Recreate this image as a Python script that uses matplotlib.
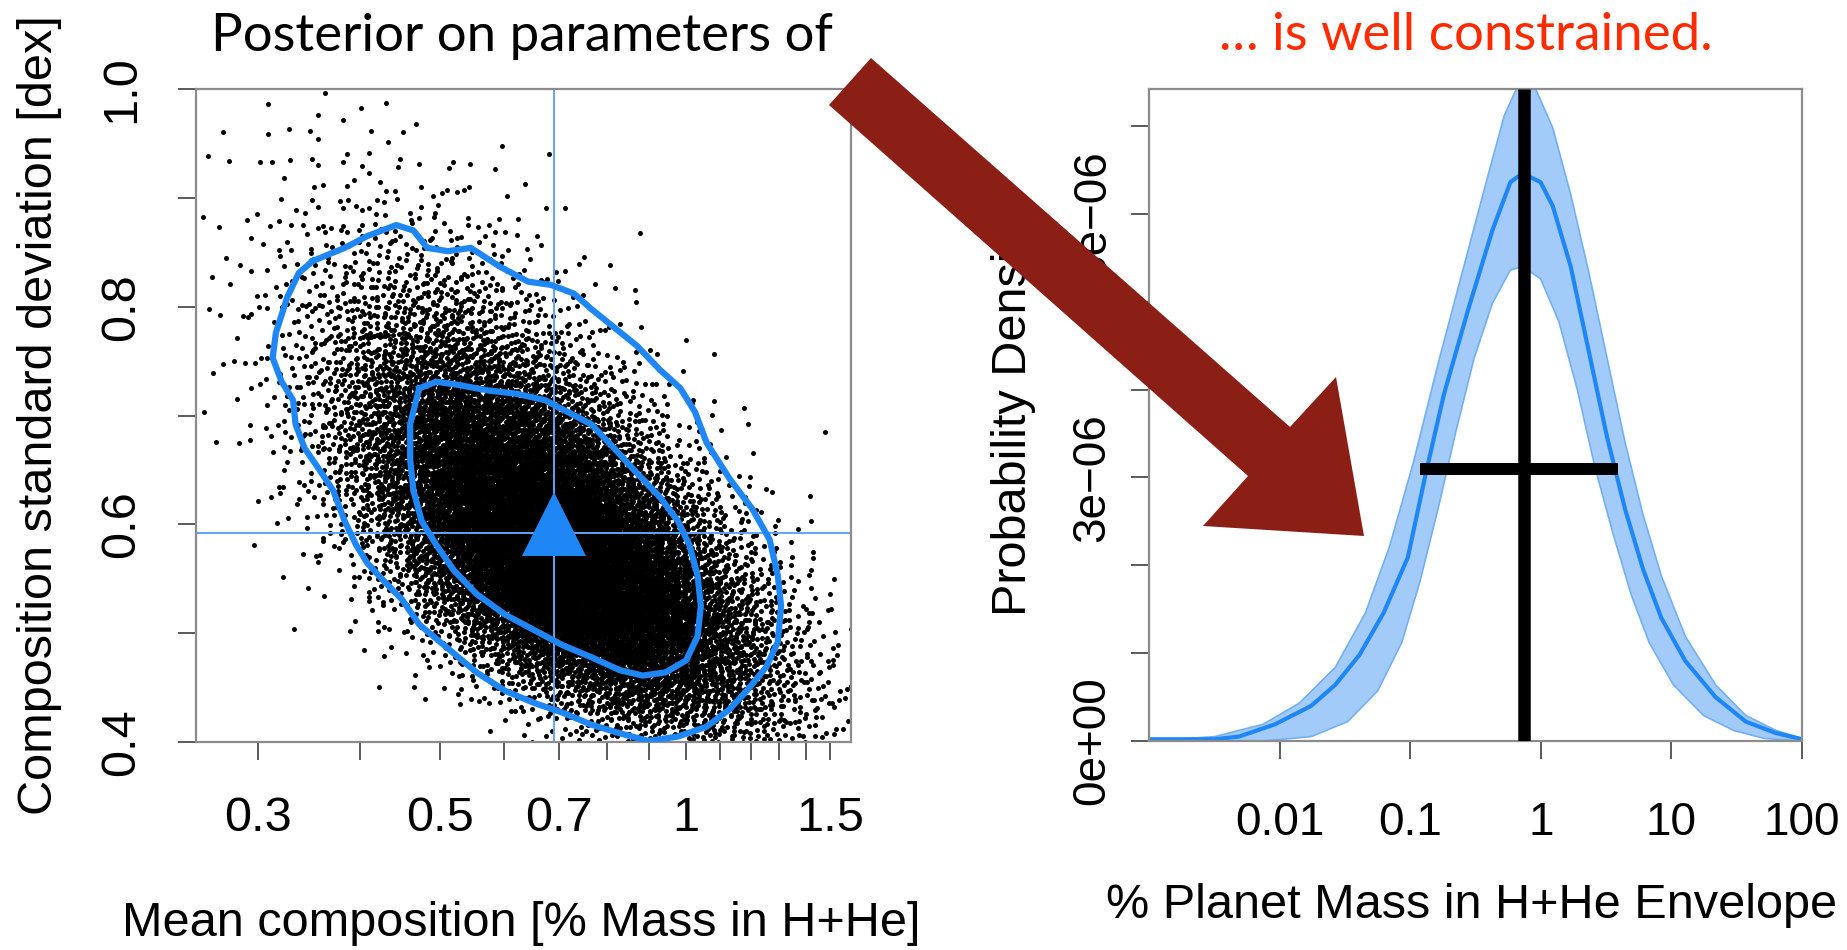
import numpy as np
import matplotlib
matplotlib.use("Agg")
import matplotlib.pyplot as plt
import matplotlib.ticker as mticker
from matplotlib.patches import Polygon

plt.rcParams["font.family"] = ["Liberation Sans", "DejaVu Sans"]

# ------------------ posterior on population parameters ------------------
n_draws = 14000
mean_log_center = -0.165    # log10 of mean composition [% mass in H+He]
mean_log_sigma = 0.13
sd_center = 0.585           # composition standard deviation [dex]
sd_log_sigma = 0.165
corr = -0.62

median_mean = 0.69
median_sd = 0.592
true_mean = 0.69
true_sd = 0.60

# credible-region outlines (log10 mean composition, sd in dex)
outer_logmean = [-0.456, -0.417, -0.389, -0.354, -0.333, -0.316, -0.291, -0.263, -0.228, -0.193,
                 -0.165, -0.137, -0.116, -0.088, -0.060, -0.032, -0.007, 0.011, 0.025, 0.053,
                 0.081, 0.102, 0.112, 0.116, 0.112, 0.098, 0.074, 0.053, 0.025, -0.010,
                 -0.046, -0.081, -0.116, -0.151, -0.186, -0.221, -0.256, -0.291, -0.326, -0.347,
                 -0.368, -0.389, -0.403, -0.417, -0.431, -0.445, -0.466, -0.477, -0.480, -0.494,
                 -0.505, -0.501, -0.487, -0.473]
outer_sd = [0.842, 0.854, 0.865, 0.875, 0.870, 0.854, 0.851, 0.854, 0.837, 0.823,
            0.820, 0.812, 0.798, 0.781, 0.764, 0.742, 0.725, 0.703, 0.675, 0.642,
            0.614, 0.586, 0.553, 0.525, 0.492, 0.469, 0.447, 0.430, 0.414, 0.405,
            0.401, 0.408, 0.416, 0.427, 0.436, 0.447, 0.464, 0.486, 0.508, 0.531,
            0.547, 0.564, 0.581, 0.603, 0.631, 0.647, 0.670, 0.692, 0.714, 0.731,
            0.753, 0.776, 0.809, 0.831]
inner_logmean = [-0.326, -0.305, -0.277, -0.242, -0.207, -0.172, -0.144, -0.116, -0.088, -0.060,
                 -0.032, -0.010, 0.004, 0.014, 0.018, 0.014, 0.000, -0.025, -0.053, -0.081,
                 -0.116, -0.151, -0.186, -0.221, -0.256, -0.284, -0.305, -0.323, -0.333, -0.337,
                 -0.337]
inner_sd = [0.725, 0.731, 0.728, 0.723, 0.720, 0.714, 0.703, 0.692, 0.670, 0.647,
            0.625, 0.603, 0.581, 0.553, 0.525, 0.497, 0.475, 0.464, 0.461, 0.466,
            0.478, 0.489, 0.503, 0.517, 0.536, 0.558, 0.581, 0.603, 0.631, 0.659,
            0.692]

left_xticks = [0.3, 0.4, 0.5, 0.6, 0.7, 0.8, 0.9, 1.0, 1.1, 1.2, 1.3, 1.4, 1.5]
left_xlabels = ["0.3", "", "0.5", "", "0.7", "", "", "1", "", "", "", "", "1.5"]
left_yticks = [0.4, 0.5, 0.6, 0.7, 0.8, 0.9, 1.0]
left_ylabels = ["0.4", "", "0.6", "", "0.8", "", "1.0"]

# ------------------ implied envelope-fraction distribution ------------------
median_logx = [-3.0, -2.497, -2.312, -2.035, -1.758, -1.573, -1.388, -1.203, -1.018, -0.880,
               -0.741, -0.556, -0.371, -0.233, -0.140, -0.002, 0.091, 0.229, 0.368, 0.507,
               0.645, 0.784, 0.923, 1.107, 1.338, 1.570, 1.801, 2.0]
median_dens = [0.02, 0.02, 0.05, 0.19, 0.40, 0.64, 0.98, 1.46, 2.09, 3.05,
               3.95, 4.91, 5.81, 6.36, 6.46, 6.36, 6.09, 5.40, 4.43, 3.46,
               2.64, 1.95, 1.40, 0.91, 0.50, 0.22, 0.09, 0.02]
upper_logx = [-3.0, -2.497, -2.127, -1.850, -1.573, -1.342, -1.157, -0.972, -0.787, -0.602,
              -0.418, -0.279, -0.163, -0.048, 0.091, 0.229, 0.368, 0.507, 0.645, 0.784,
              0.923, 1.107, 1.338, 1.570, 1.801, 2.0]
upper_dens = [0.0, 0.05, 0.19, 0.43, 0.84, 1.46, 2.22, 3.19, 4.29, 5.33,
              6.36, 7.12, 7.50, 7.45, 6.98, 6.22, 5.33, 4.36, 3.40, 2.57,
              1.88, 1.19, 0.64, 0.29, 0.12, 0.03]
lower_logx = [-3.0, -2.127, -1.758, -1.480, -1.249, -1.065, -0.926, -0.787, -0.649, -0.510,
              -0.371, -0.233, -0.140, -0.002, 0.137, 0.276, 0.414, 0.553, 0.691, 0.830,
              1.015, 1.246, 1.477, 1.708, 2.0]
lower_dens = [0.0, 0.0, 0.05, 0.22, 0.57, 1.12, 1.81, 2.64, 3.53, 4.36,
              4.98, 5.36, 5.40, 5.26, 4.78, 4.02, 3.12, 2.36, 1.67, 1.12,
              0.64, 0.29, 0.12, 0.03, 0.0]
dens_unit = 1e-6

peak_x = 0.74
fwhm_lo, fwhm_hi = 0.118, 3.87
half_max = 3.1e-6

right_xticks = [0.01, 0.1, 1, 10, 100]
right_xlabels = ["0.01", "0.1", "1", "10", "100"]
right_yticks = [0, 1e-6, 2e-6, 3e-6, 4e-6, 5e-6, 6e-6, 7e-6]
right_ylabels = ["0e+00", "", "", "3e\u221206", "", "", "6e\u221206", ""]

BLUE = "#1f87f5"
LIGHT_BLUE = "#5ea6f6"
BAND = "#a3cbf9"
BAND_EDGE = "#72b0f5"
FRAME = "#8c8c8c"


def halton(n, base):
    seq = np.zeros(n)
    for i in range(n):
        f, r, k = 1.0, 0.0, i + 1
        while k > 0:
            f /= base
            r += f * (k % base)
            k //= base
        seq[i] = r
    return seq


def style_axes(ax, tick_size, xpad, ypad):
    for s in ax.spines.values():
        s.set_color(FRAME)
        s.set_linewidth(1.6)
    ax.tick_params(direction="out", length=13, width=1.4, color="#5a5a5a",
                   labelsize=tick_size)
    ax.tick_params(axis="x", pad=xpad)
    ax.tick_params(axis="y", pad=ypad, labelrotation=90)
    for lbl in ax.get_yticklabels():
        lbl.set_va("center")
    ax.xaxis.set_minor_locator(mticker.NullLocator())


fig = plt.figure(figsize=(18.47, 9.5), dpi=100)

# ---- left: MCMC draws ----
u1 = halton(n_draws, 2)
u2 = halton(n_draws, 3)
z1 = np.sqrt(-2 * np.log(u1)) * np.cos(2 * np.pi * u2)
z2 = np.sqrt(-2 * np.log(u1)) * np.sin(2 * np.pi * u2)
draw_mean = 10 ** (mean_log_center + mean_log_sigma * z1)
draw_sd = sd_center * np.exp(sd_log_sigma * (corr * z1 + np.sqrt(1 - corr ** 2) * z2))

ax1 = fig.add_axes([196 / 1847, 1 - 742 / 950, 655 / 1847, 653 / 950])
ax1.plot(draw_mean, draw_sd, "o", color="black", ms=3.6, mew=0, zorder=1)
ax1.axvline(median_mean, color=LIGHT_BLUE, lw=1.4, zorder=2)
ax1.axhline(median_sd, color=LIGHT_BLUE, lw=1.4, zorder=2)
ax1.plot(10 ** np.append(outer_logmean, outer_logmean[0]), np.append(outer_sd, outer_sd[0]),
         color=BLUE, lw=4.5, solid_joinstyle="round", zorder=3)
ax1.plot(10 ** np.append(inner_logmean, inner_logmean[0]), np.append(inner_sd, inner_sd[0]),
         color=BLUE, lw=4.5, solid_joinstyle="round", zorder=3)
ax1.plot(true_mean, true_sd, "^", color=BLUE, ms=46, mew=0, zorder=4)

ax1.set_xscale("log")
ax1.set_xlim(0.252, 1.59)
ax1.set_ylim(0.4, 1.0)
ax1.set_xticks(left_xticks)
ax1.set_xticklabels(left_xlabels)
ax1.set_yticks(left_yticks)
ax1.set_yticklabels(left_ylabels)
style_axes(ax1, 35, 26, 24)

# ---- right: population distribution of envelope fraction ----
ax2 = fig.add_axes([1149 / 1847, 1 - 741 / 950, 653 / 1847, 652 / 950])
band_x = np.concatenate([10 ** np.array(upper_logx), 10 ** np.array(lower_logx)[::-1]])
band_y = np.concatenate([upper_dens, lower_dens[::-1]]) * dens_unit
ax2.fill(band_x, band_y, facecolor=BAND, edgecolor=BAND_EDGE, lw=1.2, zorder=1)
ax2.plot(10 ** np.array(median_logx), np.array(median_dens) * dens_unit,
         color=BLUE, lw=3, zorder=2)
ax2.axvline(peak_x, color="black", lw=9, solid_capstyle="butt", zorder=3)
ax2.plot([fwhm_lo, fwhm_hi], [half_max, half_max], color="black", lw=8.6,
         solid_capstyle="butt", zorder=3)

ax2.set_xscale("log")
ax2.set_xlim(0.001, 100)
ax2.set_ylim(0, 7.42e-6)
ax2.set_xticks(right_xticks)
ax2.set_xticklabels(right_xlabels)
ax2.set_yticks(right_yticks)
ax2.set_yticklabels(right_ylabels)
style_axes(ax2, 33, 30, 12)

# axis titles
fig.text(40 / 1847, 1 - 415 / 950, "Composition standard deviation [dex]",
         rotation=90, fontsize=35, ha="center", va="center")
fig.text(521 / 1847, 1 - 924 / 950, "Mean composition [% Mass in H+He]",
         fontsize=35, ha="center", va="center")
fig.text(1013 / 1847, 1 - 415 / 950, "Probability Density",
         rotation=90, fontsize=35, ha="center", va="center")
fig.text(1472 / 1847, 1 - 906 / 950, "% Planet Mass in H+He Envelope",
         fontsize=35, ha="center", va="center")

# headings
fig.text(522 / 1847, 1 - 36 / 950, "Posterior on parameters of", family="Lato",
         fontsize=38, ha="center", va="center")
fig.text(1466 / 1847, 1 - 36 / 950, "\u2026 is well constrained.", family="Lato",
         fontsize=38, color="#ff2a00", ha="center", va="center")

# big arrow linking the two panels
arrow_px = [(871, 58), (1290, 427), (1336, 377), (1364, 536),
            (1203, 526), (1248, 476), (829, 105)]
arrow = Polygon([(x / 1847, 1 - y / 950) for x, y in arrow_px], closed=True,
                transform=fig.transFigure, facecolor="#8b1f15", edgecolor="none",
                zorder=10)
fig.patches.append(arrow)

fig.savefig("out.png", dpi=100, facecolor="white")
